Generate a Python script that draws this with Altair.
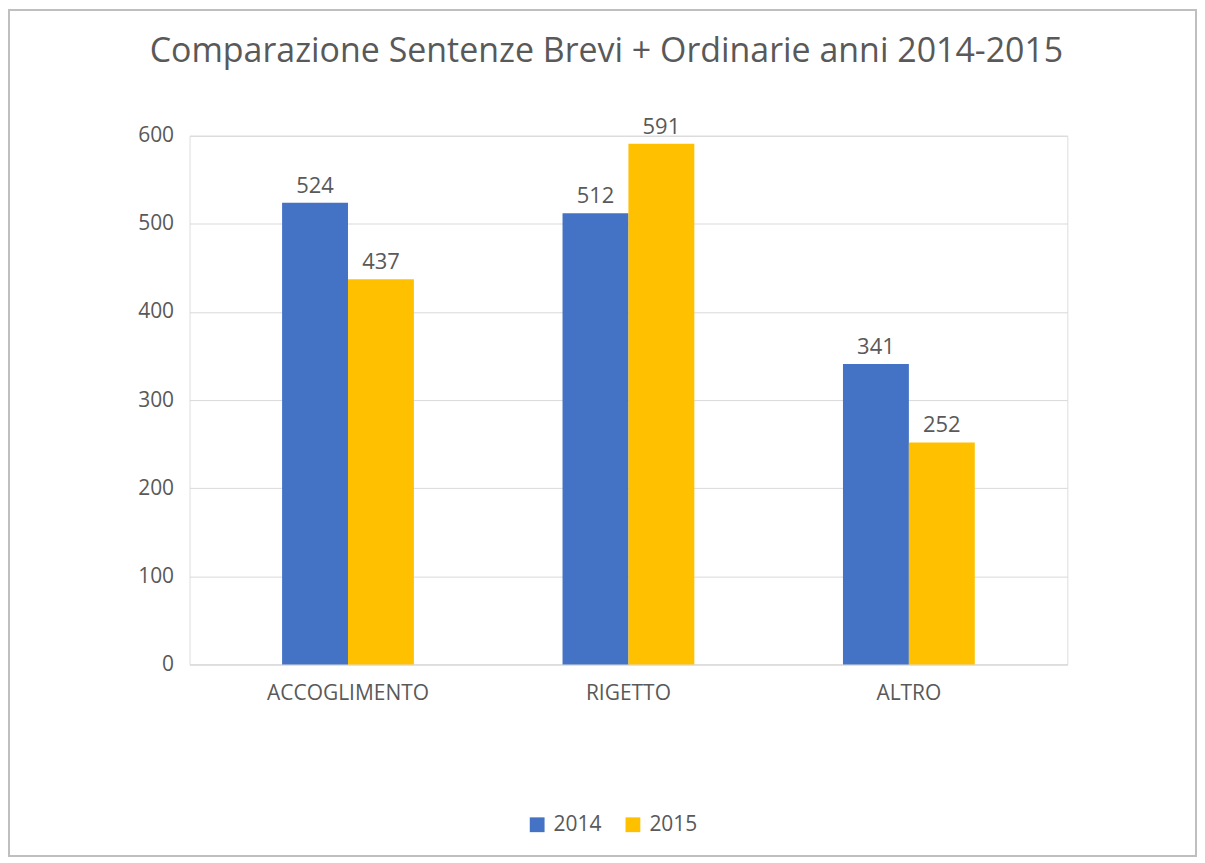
import altair as alt
import pandas as pd

categories = ["ACCOGLIMENTO", "RIGETTO", "ALTRO"]
years = ["2014", "2015"]
values_2014 = [524, 512, 341]
values_2015 = [437, 591, 252]
y_ticks = [0, 100, 200, 300, 400, 500, 600]

rows = []
for c, a, b in zip(categories, values_2014, values_2015):
    rows.append({"categoria": c, "anno": "2014", "valore": a})
    rows.append({"categoria": c, "anno": "2015", "valore": b})
df = pd.DataFrame(rows)

FONT = "Open Sans"
GRAY = "#595959"
W, H = 880, 530

x_enc = alt.X("categoria:N", sort=categories, title=None,
              axis=alt.Axis(labelAngle=0, labelFontSize=21, labelColor=GRAY,
                            labelFont=FONT, ticks=False, domainColor="#d9d9d9",
                            labelPadding=18),
              scale=alt.Scale(paddingInner=0.53, paddingOuter=0.33))
y_enc = alt.Y("valore:Q", title=None,
              scale=alt.Scale(domain=[0, 600]),
              axis=alt.Axis(values=y_ticks, labelFontSize=21, labelColor=GRAY,
                            labelFont=FONT, ticks=False, domain=False,
                            gridColor="#d9d9d9", labelPadding=16))
color_enc = alt.Color("anno:N", sort=years,
                      scale=alt.Scale(domain=years, range=["#4472C4", "#FFC000"]),
                      legend=alt.Legend(orient="none", legendX=338, legendY=680,
                                        direction="horizontal", title=None,
                                        symbolType="square",
                                        labelFontSize=21, labelColor=GRAY, labelFont=FONT,
                                        symbolSize=220, symbolStrokeWidth=0,
                                        columnPadding=20, labelOffset=6))

base = alt.Chart(df).encode(
    x=x_enc,
    xOffset=alt.XOffset("anno:N", sort=years, scale=alt.Scale(paddingInner=0)),
    y=y_enc,
)

bars = base.mark_bar().encode(color=color_enc)
labels = base.mark_text(dy=-17, fontSize=22, color=GRAY, font=FONT).encode(
    text=alt.Text("valore:Q"))

frame = alt.Chart(pd.DataFrame({"f": [0]})).mark_rect(
    fill=None, stroke="#bfbfbf", strokeWidth=2
).encode(
    x=alt.value(-181), x2=alt.value(W + 129),
    y=alt.value(-126), y2=alt.value(722),
)

chart = (frame + bars + labels).properties(
    width=W,
    height=H,
    title=alt.TitleParams("Comparazione Sentenze Brevi + Ordinarie anni 2014-2015",
                          fontSize=34, font=FONT, color=GRAY, fontWeight="normal",
                          offset=-60, anchor="middle", dx=-22),
    padding=0,
).configure_view(stroke=None).configure(background="white")

chart.save("out.html", embed_options={"renderer": "svg", "actions": False})
